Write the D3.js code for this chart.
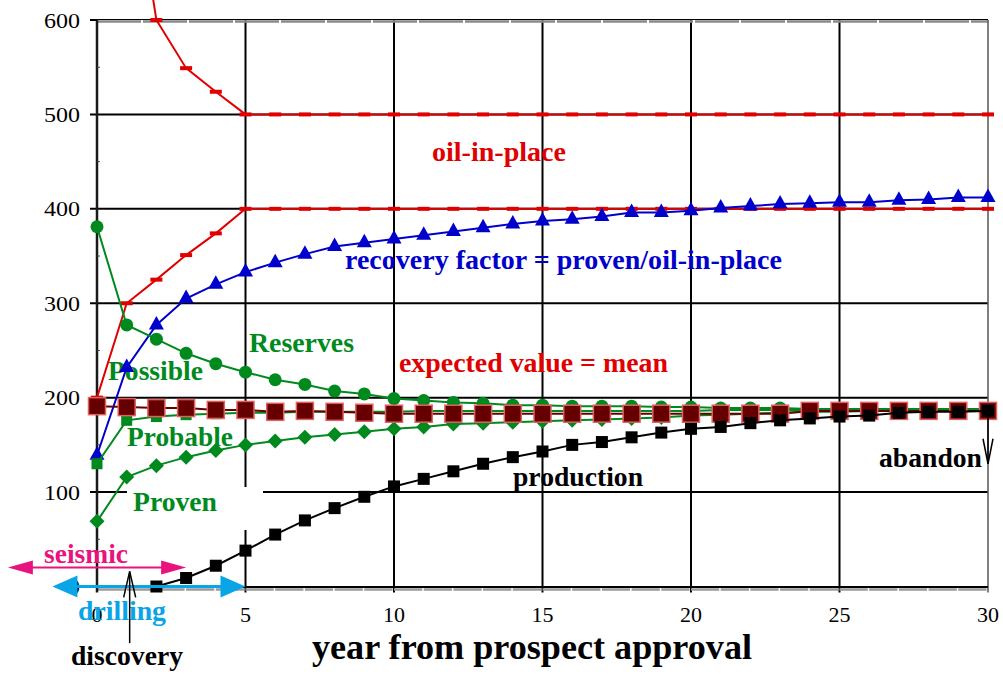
<!DOCTYPE html>
<html>
<head>
<meta charset="utf-8">
<script src="https://cdn.jsdelivr.net/npm/d3@7"></script>
<style>
  html, body { margin: 0; padding: 0; background: #fff; }
  svg { display: block; }
  text { font-family: "Liberation Serif", "Times New Roman", serif; }
</style>
</head>
<body>
<svg id="chart" width="1003" height="675"></svg>
<script>
// ---- data (million barrels vs. year from prospect approval) ----
const years = [0,1,2,3,4,5,6,7,8,9,10,11,12,13,14,15,16,17,18,19,20,21,22,23,24,25,26,27,28,29,30];

const oilInPlaceHigh = [null,800,600,549,524,500,500,500,500,500,500,500,500,500,500,500,500,500,500,500,500,500,500,500,500,500,500,500,500,500,500];
const oilInPlaceLow  = [200,300,325,351,374,400,400,400,400,400,400,400,400,400,400,400,400,400,400,400,400,400,400,400,400,400,400,400,400,400,400];
const recovery       = [139,232,277,305,320,333,343,352,360,364,368,372,376,380,384,387,389,392,396,396,398,401,403,405,406,407,407,409,410,412,412];
const reserves       = [381,277,262,247,236,227,219,214,207,204,199,197,195,194,192,192,191,191,191,190,190,189,189,189,188,188,188,188,188,188,188];
const probable       = [130,176,180,182,183,184,184,185,185,185,185,186,186,186,186,186,186,186,186,186,186,187,187,187,187,187,187,187,187,187,187];
const proven         = [69,116,128,137,144,150,154,158,161,164,167,169,172,173,174,175,176,177,178,179,181,182,183,184,185,185,186,186,187,187,187];
const expectedValue  = [191,190,189,189,187,187,185,186,185,184,183,183,183,183,183,183,183,183,183,183,183,183,183,183,186,186,186,186,186,186,186];
const production     = [null,null,0,9,22,38,55,70,83,95,106,114,122,130,137,143,150,153,158,163,167,169,173,176,178,180,181,184,185,185,186];

const xTicks = [0,5,10,15,20,25,30];
const yTicks = [0,100,200,300,400,500,600];

// activity spans: [start year, end year, level]
const seismicSpan  = [-3, 3, 20];
const drillingSpan = [-1.5, 5, 0];
const discoveryAt  = [1.1, -60, 16];   // year, from, to
const abandonAt    = [30, 187, 130];   // year, from, to

// ---- drawing ----
const RED = "#e00000", BLUE = "#0000cc", GREEN = "#008a1e", DARKRED = "#660000";
const PINK = "#e8137f", CYAN = "#0aa5e6";

const svg = d3.select("#chart");
const x = d3.scaleLinear().domain([0, 30]).range([97, 988]);
const y = d3.scaleLinear().domain([0, 600]).range([586.5, 20]);

// grid
const grid = svg.append("g");
grid.selectAll("line.h").data(yTicks.filter(v => v > 0 && v < 600)).join("line")
  .attr("x1", 90).attr("x2", x(30))
  .attr("y1", d => y(d)).attr("y2", d => y(d))
  .attr("stroke", "#000").attr("stroke-width", 2);
grid.selectAll("line.v").data(xTicks.filter(v => v > 0 && v < 30)).join("line")
  .attr("x1", d => x(d)).attr("x2", d => x(d))
  .attr("y1", y(600)).attr("y2", y(0) + 6)
  .attr("stroke", "#000").attr("stroke-width", 2);

// frame: top edge and right edge
grid.append("line").attr("x1", 90).attr("x2", x(30)).attr("y1", y(600) - 0.5).attr("y2", y(600) - 0.5)
  .attr("stroke", "#000").attr("stroke-width", 1);
grid.append("line").attr("x1", x(0)).attr("x2", x(30)).attr("y1", y(600) + 1.5).attr("y2", y(600) + 1.5)
  .attr("stroke", "#8a8a8a").attr("stroke-width", 2.5).attr("stroke-dasharray", "44 2");
grid.append("line").attr("x1", x(30)).attr("x2", x(30)).attr("y1", y(600)).attr("y2", y(0) + 6)
  .attr("stroke", "#555").attr("stroke-width", 1.5);

// x axis
grid.append("line").attr("x1", x(0)).attr("x2", x(30)).attr("y1", y(0) + 3).attr("y2", y(0) + 3)
  .attr("stroke", "#9a9a9a").attr("stroke-width", 2.5)
  .attr("stroke-dasharray", `${x(1) - x(0) - 1.5} 1.5`);
grid.append("line").attr("x1", x(0)).attr("x2", x(30)).attr("y1", y(0) + 0.5).attr("y2", y(0) + 0.5)
  .attr("stroke", "#000").attr("stroke-width", 2);

// y axis with minor ticks
grid.append("line").attr("x1", x(0)).attr("x2", x(0)).attr("y1", y(600) - 1).attr("y2", y(0) + 6)
  .attr("stroke", "#1a1a1a").attr("stroke-width", 2.5);
grid.selectAll("line.minor").data([50,150,250,350,450,550]).join("line")
  .attr("x1", x(0)).attr("x2", x(0) + 3)
  .attr("y1", d => y(d)).attr("y2", d => y(d))
  .attr("stroke", "#444").attr("stroke-width", 1);
grid.selectAll("line.ytick").data([0,600]).join("line")
  .attr("x1", 90).attr("x2", x(0))
  .attr("y1", d => y(d)).attr("y2", d => y(d))
  .attr("stroke", "#000").attr("stroke-width", 2);

// tick labels
svg.append("g").selectAll("text").data(yTicks).join("text")
  .attr("x", 80).attr("y", d => y(d) + 7.5)
  .attr("text-anchor", "end").attr("font-size", 22)
  .attr("textLength", d => String(d).length * 12).attr("lengthAdjust", "spacingAndGlyphs")
  .text(d => d);
svg.append("g").selectAll("text").data(xTicks).join("text")
  .attr("x", d => x(d)).attr("y", 622)
  .attr("text-anchor", "middle").attr("font-size", 22)
  .text(d => d);

// axis title
svg.append("text").attr("x", 312).attr("y", 659)
  .attr("font-size", 36).attr("font-weight", "bold")
  .attr("textLength", 440).attr("lengthAdjust", "spacingAndGlyphs")
  .text("year from prospect approval");

// label backing box for "Proven"
svg.append("rect").attr("x", 127).attr("y", 487).attr("width", 136).attr("height", 43).attr("fill", "#fff");

// series labels
const labels = [
  ["oil-in-place", 432, 161, 134, RED],
  ["recovery factor = proven/oil-in-place", 345, 269, 437, BLUE],
  ["Reserves", 249, 352, 105, GREEN],
  ["expected value = mean", 399, 372, 269, RED],
  ["Possible", 108, 380, 95, GREEN],
  ["Probable", 127, 446, 106, GREEN],
  ["Proven", 133, 511, 84, GREEN],
  ["production", 513, 486, 130, "#000"],
  ["abandon", 879, 467, 103, "#000"],
  ["seismic", 44, 563, 84, PINK],
  ["discovery", 71, 665, 112, "#000"]
];
svg.append("g").selectAll("text").data(labels).join("text")
  .attr("x", d => d[1]).attr("y", d => d[2])
  .attr("font-size", 28).attr("font-weight", "bold")
  .attr("textLength", d => d[3]).attr("lengthAdjust", "spacingAndGlyphs")
  .attr("fill", d => d[4])
  .text(d => d[0]);

// series lines and markers
const line = d3.line()
  .defined(d => d.v != null)
  .x(d => x(d.t)).y(d => y(d.v));
const pts = arr => years.map((t, i) => ({ t, v: arr[i] }));

function drawSeries(arr, color, marker) {
  const g = svg.append("g");
  g.append("path").datum(pts(arr)).attr("d", line)
    .attr("fill", "none").attr("stroke", color).attr("stroke-width", 2);
  marker(g.selectAll("g.m").data(pts(arr).filter(d => d.v != null)).join("g")
    .attr("transform", d => `translate(${x(d.t)},${y(d.v)})`));
}
const dash = c => s => s.append("rect").attr("x", -6).attr("y", -2).attr("width", 12).attr("height", 4).attr("fill", c);
const tri = c => s => s.append("path").attr("d", "M0,-9L7.5,4.5L-7.5,4.5Z").attr("fill", c);
const circ = c => s => s.append("circle").attr("r", 6.5).attr("fill", c);
const diam = c => s => s.append("path").attr("d", "M0,-7.5L7.5,0L0,7.5L-7.5,0Z").attr("fill", c);
const sq = (c, size, stroke) => s => s.append("rect")
  .attr("x", -size / 2).attr("y", -size / 2).attr("width", size).attr("height", size)
  .attr("fill", c).attr("stroke", stroke || "none").attr("stroke-width", stroke ? 1.5 : 0);

drawSeries(oilInPlaceHigh, RED, dash(RED));
drawSeries(oilInPlaceLow, RED, dash(RED));
drawSeries(recovery, BLUE, tri(BLUE));
drawSeries(reserves, GREEN, circ(GREEN));
drawSeries(proven, GREEN, diam(GREEN));
drawSeries(probable, GREEN, sq(GREEN, 11));
drawSeries(expectedValue, DARKRED, sq(DARKRED, 17, "#e06060"));
drawSeries(production, "#000", sq("#000", 12));

// seismic span: double-headed arrow
const ann = svg.append("g");
{
  const [a, b, lv] = seismicSpan, yy = y(lv);
  ann.append("line").attr("x1", x(a) + 10).attr("x2", x(b) - 10).attr("y1", yy).attr("y2", yy)
    .attr("stroke", PINK).attr("stroke-width", 2);
  ann.append("path").attr("d", `M${x(a)},${yy}L${x(a) + 25},${yy - 7}L${x(a) + 25},${yy + 7}Z`).attr("fill", PINK);
  ann.append("path").attr("d", `M${x(b)},${yy}L${x(b) - 25},${yy - 7}L${x(b) - 25},${yy + 7}Z`).attr("fill", PINK);
}
// drilling span
{
  const [a, b, lv] = drillingSpan, yy = y(lv);
  ann.append("line").attr("x1", x(a) + 10).attr("x2", x(b) - 10).attr("y1", yy).attr("y2", yy)
    .attr("stroke", CYAN).attr("stroke-width", 3);
  ann.append("path").attr("d", `M${x(a)},${yy}L${x(a) + 25},${yy - 11}L${x(a) + 25},${yy + 11}Z`).attr("fill", CYAN);
  ann.append("path").attr("d", `M${x(b)},${yy}L${x(b) - 25},${yy - 11}L${x(b) - 25},${yy + 11}Z`).attr("fill", CYAN);
  ann.append("text").attr("x", 78).attr("y", 620)
    .attr("font-size", 28).attr("font-weight", "bold").attr("fill", CYAN)
    .attr("textLength", 88).attr("lengthAdjust", "spacingAndGlyphs")
    .text("drilling");
}
// discovery and abandonment pointers (open arrowheads)
function pointer(t, from, to, half, len) {
  const xx = x(t), y0 = y(from), y1 = y(to), dir = y1 < y0 ? 1 : -1;
  ann.append("line").attr("x1", xx).attr("x2", xx).attr("y1", y0).attr("y2", y1)
    .attr("stroke", "#000").attr("stroke-width", 1.5);
  ann.append("path").attr("d", `M${xx - half},${y1 + dir * len}L${xx},${y1}L${xx + half},${y1 + dir * len}`)
    .attr("fill", "none").attr("stroke", "#000").attr("stroke-width", 1.5);
}
pointer(discoveryAt[0], discoveryAt[1], discoveryAt[2], 6, 26);
pointer(abandonAt[0], abandonAt[1], abandonAt[2], 5, 25);
</script>
</body>
</html>
